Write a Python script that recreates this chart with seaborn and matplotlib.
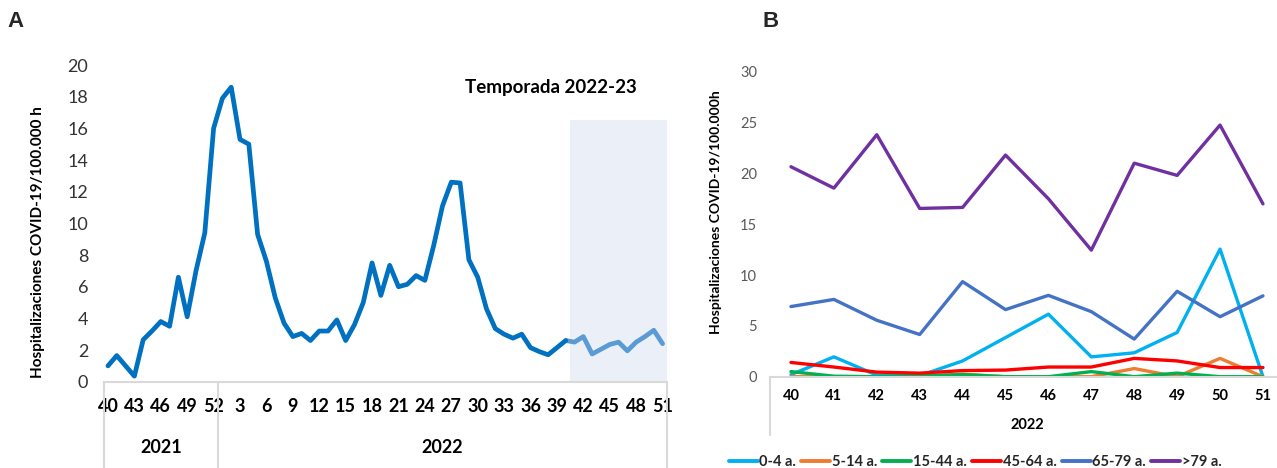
import numpy as np
import pandas as pd
import matplotlib
matplotlib.use("Agg")
import matplotlib.pyplot as plt
import matplotlib.transforms as mtransforms
from matplotlib.lines import Line2D
import seaborn as sns

# ---------------- data ----------------
# Panel A: weekly COVID-19 hospitalisation rate, week 40/2021 to week 51/2022
weeks_2021 = list(range(40, 53))
weeks_2022 = list(range(1, 52))
rate_2021 = [1.0, 1.65, 1.0, 0.35, 2.65, 3.2, 3.8, 3.5, 6.6, 4.1, 7.0, 9.4, 16.0]
rate_2022 = [17.9, 18.6, 15.3, 15.0, 9.3, 7.6, 5.3, 3.7, 2.85, 3.05,
             2.6, 3.2, 3.2, 3.9, 2.6, 3.6, 5.0, 7.5, 5.45, 7.35,
             6.0, 6.15, 6.7, 6.4, 8.6, 11.1, 12.6, 12.55, 7.7, 6.6,
             4.6, 3.35, 3.0, 2.75, 3.0, 2.15, 1.9, 1.7, 2.15, 2.6,
             2.5, 2.85, 1.75, 2.05, 2.35, 2.5, 1.95, 2.5, 2.85, 3.25,
             2.4]
season_start_week = 40      # 2022-23 season starts at week 40 of 2022
season_shade_top = 16.5
season_label = "Temporada 2022-23"

# Panel B: rate by age group, season 2022-23 (weeks 40-51 of 2022)
weeks_b = [40, 41, 42, 43, 44, 45, 46, 47, 48, 49, 50, 51]
age_groups = ["0-4 a.", "5-14 a.", "15-44 a.", "45-64 a.", "65-79 a.", ">79 a."]
rate_0_4 = [0.2, 1.95, 0.15, 0.1, 1.55, 3.85, 6.15, 1.95, 2.35, 4.35, 12.55, 0.0]
rate_5_14 = [0.0, 0.0, 0.0, 0.0, 0.25, 0.0, 0.0, 0.0, 0.8, 0.0, 1.8, 0.0]
rate_15_44 = [0.5, 0.05, 0.0, 0.1, 0.2, 0.0, 0.0, 0.5, 0.0, 0.35, 0.0, 0.0]
rate_45_64 = [1.4, 0.95, 0.45, 0.35, 0.6, 0.65, 0.95, 0.95, 1.8, 1.55, 0.9, 0.9]
rate_65_79 = [6.9, 7.6, 5.55, 4.15, 9.35, 6.6, 8.0, 6.4, 3.7, 8.4, 5.9, 7.95]
rate_80p = [20.65, 18.55, 23.8, 16.55, 16.65, 21.8, 17.5, 12.45, 21.0, 19.8, 24.75, 17.0]
year_b = "2022"

palette_b = ["#00B0F0", "#ED7D31", "#00B050", "#FF0000", "#4472C4", "#7030A0"]

# ---------------- style ----------------
sns.set_theme(style="white")
plt.rcParams["font.family"] = ["Lato", "DejaVu Sans"]
GRID = "#D9D9D9"
LETTER_FONT = ["Liberation Sans Narrow", "Liberation Sans", "DejaVu Sans"]

fig = plt.figure(figsize=(12.77, 4.68), dpi=100)

# ---------------- panel A ----------------
axA = fig.add_axes([0.0811, 0.1844, 0.4412, 0.6767])

weeks_all = weeks_2021 + weeks_2022
rate_all = rate_2021 + rate_2022
dfA = pd.DataFrame({"pos": np.arange(len(weeks_all)), "week": weeks_all,
                    "rate": rate_all})
season_pos = len(weeks_2021) + season_start_week - 1
n = len(dfA)

axA.axvspan(season_pos + 0.5, n - 0.5, ymin=0, ymax=season_shade_top / 20,
            color="#EBF0F8", lw=0, zorder=0)

past = dfA[dfA["pos"] <= season_pos]
current = dfA[dfA["pos"] >= season_pos]
sns.lineplot(data=current, x="pos", y="rate", ax=axA, color="#5B9BD5",
             lw=3.4, solid_capstyle="round", solid_joinstyle="round", zorder=2)
sns.lineplot(data=past, x="pos", y="rate", ax=axA, color="#0070C0",
             lw=3.4, solid_capstyle="round", solid_joinstyle="round", zorder=3)

axA.set_xlim(-0.5, n - 0.5)
axA.set_ylim(0, 20)
axA.set_yticks(range(0, 21, 2))
axA.set_yticklabels([str(v) for v in range(0, 21, 2)], fontsize=13, color="#333333")
tick_pos = list(range(0, n, 3))
axA.set_xticks(tick_pos)
axA.set_xticklabels([str(weeks_all[i]) for i in tick_pos], fontsize=13,
                    fontweight="bold", color="black")
axA.tick_params(axis="x", length=0, pad=12)
axA.tick_params(axis="y", length=0, pad=11)
for s in ["top", "right", "left"]:
    axA.spines[s].set_visible(False)
axA.spines["bottom"].set_color(GRID)
axA.spines["bottom"].set_linewidth(1.5)
axA.set_xlabel("")
axA.set_ylabel("Hospitalizaciones COVID-19/100.000 h", fontsize=11,
               fontweight="bold", color="black")
axA.yaxis.set_label_coords(-0.104, 0.441)

trA = mtransforms.blended_transform_factory(axA.transData, axA.transAxes)
for xs in [-0.5, len(weeks_2021) - 0.5, n - 0.5]:
    axA.plot([xs, xs], [0, -0.28], transform=trA, color=GRID, lw=1.5,
             clip_on=False)
axA.text((len(weeks_2021) - 1) / 2, -0.208, "2021", transform=trA,
         ha="center", va="center", fontsize=13, fontweight="bold", color="black")
axA.text(len(weeks_2021) + (len(weeks_2022) - 1) / 2, -0.208, "2022",
         transform=trA, ha="center", va="center", fontsize=13,
         fontweight="bold", color="black")
axA.text(0.794, 0.9305, season_label, transform=axA.transAxes, ha="center",
         va="center", fontsize=13.5, fontweight="bold", color="black")

# ---------------- panel B ----------------
axB = fig.add_axes([0.6026, 0.1951, 0.4032, 0.6517])

dfB = pd.DataFrame({"pos": list(range(len(weeks_b))) * len(age_groups),
                    "group": np.repeat(age_groups, len(weeks_b)),
                    "rate": rate_0_4 + rate_5_14 + rate_15_44 + rate_45_64
                    + rate_65_79 + rate_80p})
sns.lineplot(data=dfB, x="pos", y="rate", hue="group", hue_order=age_groups,
             palette=palette_b, ax=axB, lw=2.4, legend=False,
             solid_joinstyle="round")

axB.set_xlim(-0.5, len(weeks_b) - 0.5)
axB.set_ylim(0, 30)
axB.set_yticks(range(0, 31, 5))
axB.set_yticklabels([str(v) for v in range(0, 31, 5)], fontsize=10.5,
                    color="#595959")
axB.set_xticks(range(len(weeks_b)))
axB.set_xticklabels([str(w) for w in weeks_b], fontsize=10.5,
                    fontweight="bold", color="black")
axB.tick_params(axis="x", length=0, pad=9)
axB.tick_params(axis="y", length=0, pad=9)
for s in ["top", "right", "left"]:
    axB.spines[s].set_visible(False)
axB.spines["bottom"].set_color(GRID)
axB.spines["bottom"].set_linewidth(1.5)
axB.set_xlabel("")
axB.set_ylabel("Hospitalizaciones COVID-19/100.000h", fontsize=10,
               fontweight="bold", color="black")
axB.yaxis.set_label_coords(-0.0928, 0.539)

trB = mtransforms.blended_transform_factory(axB.transData, axB.transAxes)
axB.plot([-0.5, -0.5], [0, -0.19], transform=trB, color=GRID, lw=1.5,
         clip_on=False)
axB.text((len(weeks_b) - 1) / 2, -0.157, year_b, transform=trB, ha="center",
         va="center", fontsize=10.5, fontweight="bold", color="black")

handles = [Line2D([], [], color=c, lw=2.8) for c in palette_b]
fig.legend(handles, age_groups, loc="center", bbox_to_anchor=(0.7635, 0.0128),
           ncol=6, frameon=False, handlelength=2.0, handletextpad=0.1,
           columnspacing=0.35, borderpad=0.1,
           prop={"weight": "bold", "size": 10.5})

# ---------------- panel letters ----------------
fig.text(0.0125, 0.953, "A", fontsize=16, fontweight="bold",
         family=LETTER_FONT, ha="center", va="center")
fig.text(0.6035, 0.953, "B", fontsize=16, fontweight="bold",
         family=LETTER_FONT, ha="center", va="center")

fig.savefig("out.png", dpi=100)
